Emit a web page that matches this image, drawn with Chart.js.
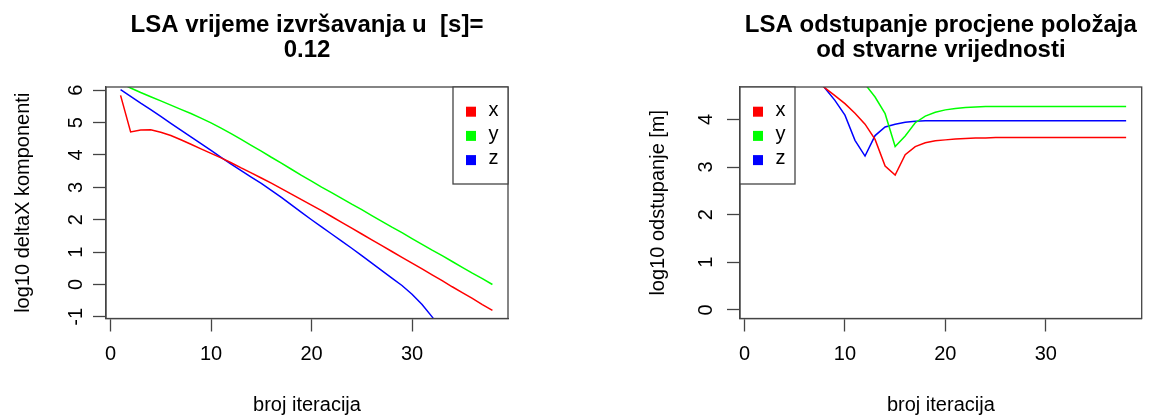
<!DOCTYPE html>
<html lang="hr">
<head>
<meta charset="utf-8">
<title>LSA</title>
<script src="https://cdn.jsdelivr.net/npm/chart.js@4.4.1/dist/chart.umd.min.js"></script>
<style>
  html, body { margin: 0; padding: 0; background: #fff; }
  #wrap { position: relative; width: 1149px; height: 419px; overflow: hidden; background: #fff; }
  #lijevi { position: absolute; left: 0; top: 0; }
  #desni { position: absolute; left: 634px; top: 0; }
</style>
</head>
<body>
<div id="wrap">
  <canvas id="lijevi" width="574" height="419"></canvas>
  <canvas id="desni" width="515" height="419"></canvas>
</div>
<script>
// ── Podaci ──

const iteracije = [1, 2, 3, 4, 5, 6, 7, 8, 9, 10, 11, 12, 13, 14, 15, 16, 17, 18, 19,
  20, 21, 22, 23, 24, 25, 26, 27, 28, 29, 30, 31, 32, 33, 34, 35, 36, 37, 38];

// log10 deltaX komponenti (lijevi graf)
const deltaX = [5.84, 4.71, 4.77, 4.78, 4.70, 4.60, 4.47, 4.33, 4.19, 4.05, 3.91, 3.76, 3.60,
  3.45, 3.29, 3.13, 2.96, 2.79, 2.62, 2.45, 2.28, 2.10, 1.92, 1.74, 1.56, 1.38, 1.20, 1.02,
  0.84, 0.66, 0.48, 0.30, 0.12, -0.07, -0.25, -0.43, -0.62, -0.80];
const deltaY = [6.22, 6.07, 5.93, 5.80, 5.67, 5.54, 5.41, 5.28, 5.14, 4.99, 4.83, 4.66, 4.48,
  4.30, 4.12, 3.93, 3.75, 3.56, 3.37, 3.19, 3.01, 2.84, 2.66, 2.48, 2.31, 2.13, 1.95, 1.77,
  1.60, 1.42, 1.24, 1.06, 0.89, 0.71, 0.53, 0.35, 0.18, 0.00];
const deltaZ = [6.02, 5.81, 5.60, 5.40, 5.19, 4.98, 4.77, 4.56, 4.35, 4.14, 3.93, 3.72, 3.52,
  3.32, 3.12, 2.91, 2.69, 2.46, 2.23, 2.00, 1.78, 1.56, 1.34, 1.12, 0.89, 0.66, 0.43, 0.20,
  -0.03, -0.30, -0.62, -1.00, -1.42, -1.83, -2.28, -2.77, -3.30, -3.87];

// log10 odstupanje [m] (desni graf)
const odstX = [6.30, 6.00, 5.70, 5.45, 5.20, 5.00, 4.84, 4.66, 4.50, 4.33, 4.13, 3.90, 3.58,
  3.02, 2.83, 3.26, 3.43, 3.51, 3.55, 3.57, 3.59, 3.60, 3.61, 3.61, 3.62, 3.62, 3.62, 3.62,
  3.62, 3.62, 3.62, 3.62, 3.62, 3.62, 3.62, 3.62, 3.62, 3.62];
const odstY = [7.60, 7.40, 7.20, 7.00, 6.75, 6.50, 6.20, 5.90, 5.60, 5.30, 5.00, 4.74, 4.47,
  4.12, 3.43, 3.65, 3.93, 4.07, 4.15, 4.20, 4.23, 4.25, 4.26, 4.27, 4.27, 4.27, 4.27, 4.27,
  4.27, 4.27, 4.27, 4.27, 4.27, 4.27, 4.27, 4.27, 4.27, 4.27];
const odstZ = [6.40, 6.10, 5.80, 5.50, 5.25, 5.05, 4.92, 4.66, 4.40, 4.09, 3.56, 3.23, 3.66,
  3.84, 3.90, 3.94, 3.96, 3.97, 3.97, 3.97, 3.97, 3.97, 3.97, 3.97, 3.97, 3.97, 3.97, 3.97,
  3.97, 3.97, 3.97, 3.97, 3.97, 3.97, 3.97, 3.97, 3.97, 3.97];

// oznake na osima
const xTickovi = [0, 10, 20, 30];
const yTickoviLijevi = [-1, 0, 1, 2, 3, 4, 5, 6];
const yTickoviDesni = [0, 1, 2, 3, 4];

const oznake = ['x', 'y', 'z'];
const boje = ['#ff0000', '#00ff00', '#0000ff'];

Chart.defaults.font.family = "'Liberation Sans', Arial, Helvetica, sans-serif";
Chart.defaults.color = '#000';

const SIVA = '#444';

// ── Pomoćni dodaci ──

// okvir oko područja grafa (R box())
const okvir = {
  id: 'okvir',
  afterDatasetsDraw(chart) {
    const { ctx, chartArea: a } = chart;
    ctx.save();
    ctx.strokeStyle = SIVA;
    ctx.lineWidth = 1.3;
    ctx.strokeRect(a.left, a.top, a.right - a.left, a.bottom - a.top);
    ctx.restore();
  },
};

// legenda s okvirom unutar grafa
const legendaOkvir = {
  id: 'legendaOkvir',
  afterDraw(chart, args, opts) {
    const { ctx, chartArea: a } = chart;
    const w = 55, h = 97;
    const x0 = opts.strana === 'desno' ? a.right - w : a.left;
    const y0 = a.top;
    ctx.save();
    ctx.fillStyle = '#fff';
    ctx.fillRect(x0, y0, w, h);
    ctx.strokeStyle = SIVA;
    ctx.lineWidth = 1.3;
    ctx.strokeRect(x0, y0, w, h);
    ctx.font = "20px 'Liberation Sans', Arial, sans-serif";
    ctx.textBaseline = 'middle';
    chart.data.datasets.forEach((ds, i) => {
      const cy = y0 + 24.7 + i * 24.2;
      ctx.fillStyle = ds.borderColor;
      ctx.fillRect(x0 + 13, cy - 5, 10, 10);
      ctx.fillStyle = '#000';
      ctx.fillText(ds.label, x0 + 35.5, cy - 1.5);
    });
    ctx.restore();
  },
};

function serije(nizovi) {
  return nizovi.map((niz, k) => ({
    label: oznake[k],
    data: iteracije.map((it, i) => ({ x: it, y: niz[i] })),
    borderColor: boje[k],
    backgroundColor: boje[k],
    borderWidth: 1.5,
    pointRadius: 0,
    tension: 0,
    fill: false,
  }));
}

function osi(yMin, yMax, yTickovi, yNaslov, yPad, naslovPad) {
  const crta = { drawOnChartArea: false, drawTicks: true, tickLength: 13, tickColor: SIVA, tickWidth: 1.3 };
  return {
    x: {
      type: 'linear', min: -0.45, max: 39.55,
      border: { color: SIVA, width: 1.3 },
      grid: crta,
      afterBuildTicks: (s) => { s.ticks = xTickovi.map((v) => ({ value: v })); },
      ticks: { padding: 11, maxRotation: 0, autoSkip: false, font: { size: 20 }, color: '#000' },
      title: { display: true, text: 'broj iteracija', font: { size: 20 }, color: '#000', padding: { top: 0, bottom: 2 } },
      afterFit: (s) => { s.height = 100.5; },
    },
    y: {
      type: 'linear', min: yMin, max: yMax,
      border: { color: SIVA, width: 1.3 },
      grid: crta,
      afterBuildTicks: (s) => { s.ticks = yTickovi.map((v) => ({ value: v })); },
      ticks: { padding: yPad, minRotation: 90, maxRotation: 90, crossAlign: 'center', font: { size: 20 }, color: '#000' },
      title: { display: true, text: yNaslov, font: { size: 20 }, color: '#000', padding: { top: naslovPad, bottom: 0 } },
      afterFit: (s) => { s.width = 106; },
    },
  };
}

function napraviGraf(id, naslov, nizovi, skale, desnaMargina, strana) {
  return new Chart(document.getElementById(id), {
    type: 'line',
    data: { datasets: serije(nizovi) },
    options: {
      responsive: false,
      animation: false,
      events: [],
      layout: { padding: { left: 0, right: desnaMargina, top: 0, bottom: 0 } },
      scales: skale,
      plugins: {
        legend: { display: false },
        tooltip: { enabled: false },
        title: {
          display: true,
          text: naslov,
          fullSize: false,
          font: { size: 24, weight: 'bold', lineHeight: 25 / 24 },
          color: '#000',
          padding: { top: 12.5, bottom: 24.5 },
        },
        legendaOkvir: { strana },
      },
    },
    plugins: [okvir, legendaOkvir],
  });
}

// ── Grafovi ──

napraviGraf('lijevi',
  ['LSA vrijeme izvršavanja u  [s]=', '0.12'],
  [deltaX, deltaY, deltaZ],
  osi(-1.05, 6.1, yTickoviLijevi, 'log10 deltaX komponenti', 8, 11.3),
  66, 'desno');

napraviGraf('desni',
  ['LSA odstupanje procjene položaja', 'od stvarne vrijednosti'],
  [odstX, odstY, odstZ],
  osi(-0.18, 4.68, yTickoviDesni, 'log10 odstupanje [m]', 15, 12.3),
  7.3, 'lijevo');
</script>
</body>
</html>
